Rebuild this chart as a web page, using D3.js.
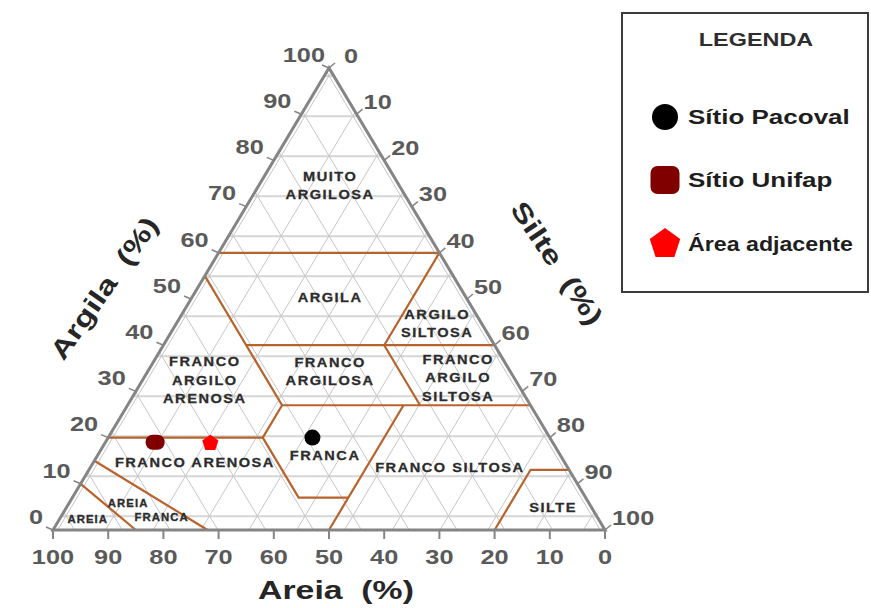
<!DOCTYPE html>
<html>
<head>
<meta charset="utf-8">
<script src="https://cdn.jsdelivr.net/npm/d3@7"></script>
<style>
  html, body { margin: 0; padding: 0; background: #fff; }
  svg { display: block; }
  text { font-family: "Liberation Sans", Arial, sans-serif; font-weight: bold; white-space: pre; }
</style>
</head>
<body>
<svg id="chart" width="871" height="608"></svg>
<script>
// ---- Samples: particle-size fractions in percent ----
const sampleNames = ["Sítio Pacoval", "Sítio Unifap", "Área adjacente"];
const sampleSand  = [43, 72, 62];
const sampleSilt  = [37, 9, 19];
const sampleClay  = [20, 19, 19];

// ---- Axis tick values (percent) ----
const tickValues = [0, 10, 20, 30, 40, 50, 60, 70, 80, 90, 100];

// ---- Texture class boundaries, vertices as [sand, silt, clay] ----
const classBoundaries = [
  [[40, 0, 60], [0, 40, 60]],
  [[45, 0, 55], [45, 28, 27], [52, 28, 20], [52, 41, 7], [43, 50, 7]],
  [[45, 15, 40], [0, 60, 40]],
  [[0, 40, 60], [20, 40, 40], [20, 53, 27]],
  [[45, 28, 27], [0, 73, 27]],
  [[23, 50, 27], [50, 50, 0]],
  [[80, 0, 20], [52, 28, 20]],
  [[85, 0, 15], [72, 28, 0]],
  [[90, 0, 10], [85, 15, 0]],
  [[20, 80, 0], [7, 80, 13], [0, 87, 13]]
];

// ---- Texture class names ----
const classNames = [
  ["MUITO", "ARGILOSA"],
  ["ARGILA"],
  ["ARGILO", "SILTOSA"],
  ["FRANCO", "ARGILOSA"],
  ["FRANCO", "ARGILO", "ARENOSA"],
  ["FRANCO", "ARGILO", "SILTOSA"],
  ["FRANCO ARENOSA"],
  ["FRANCA"],
  ["FRANCO SILTOSA"],
  ["SILTE"],
  ["AREIA"],
  ["AREIA"],
  ["FRANCA"]
];

// ---- Drawing ----
const svg = d3.select("#chart");

// horizontal position follows silt + clay/2, vertical follows clay
const xScale = d3.scaleLinear().domain([0, 100]).range([53, 605]);
const yScale = d3.scaleLinear().domain([0, 100]).range([530, 68]);
const project = (sand, silt, clay) => [xScale(silt + clay / 2), yScale(clay)];
const line = d3.line();

function label(parent, x, y, str, o) {
  const g = parent.append("g")
    .attr("transform", `translate(${x},${y}) rotate(${o.rot || 0}) scale(${o.sx || 1},1)`);
  return g.append("text")
    .attr("text-anchor", o.anchor || "middle")
    .attr("dy", "0.35em")
    .style("font-size", o.size + "px")
    .style("letter-spacing", (o.ls || 0) + "px")
    .attr("fill", o.fill || "#333")
    .text(str);
}

// background lattice
const grid = svg.append("g");
const gridStep = 8.66;
for (let c = 2.98; c < 100; c += gridStep) {
  grid.append("path").attr("d", line([project(100 - c, 0, c), project(0, 100 - c, c)]))
    .attr("stroke", "#d6d6d6").attr("stroke-width", 2).attr("fill", "none");
}
for (let t = 0.84; t < 100; t += gridStep) {
  grid.append("path").attr("d", line([project(100 - t, t, 0), project(0, t, 100 - t)]))
    .attr("stroke", "#c6c6c6").attr("stroke-width", 1).attr("fill", "none");
  grid.append("path").attr("d", line([project(t, 100 - t, 0), project(t, 0, 100 - t)]))
    .attr("stroke", "#c6c6c6").attr("stroke-width", 1).attr("fill", "none");
}

// class boundaries
svg.append("g").selectAll("path").data(classBoundaries).join("path")
  .attr("d", d => line(d.map(p => project(p[0], p[1], p[2]))))
  .attr("fill", "none").attr("stroke", "#b8622c").attr("stroke-width", 2.2)
  .attr("stroke-linejoin", "round");

// triangle outline
const corners = [project(100, 0, 0), project(0, 0, 100), project(0, 100, 0)];
svg.append("path").attr("d", line(corners) + "Z")
  .attr("fill", "none").attr("stroke", "#858585").attr("stroke-width", 3)
  .attr("stroke-linejoin", "miter");

// ticks and tick labels
const axisG = svg.append("g");
const numStyle = { size: 19.5, sx: 1.3, fill: "#5a5a5a" };
tickValues.forEach(v => {
  // sand, along the base
  const [bx, by] = project(v, 100 - v, 0);
  axisG.append("line").attr("x1", bx).attr("x2", bx).attr("y1", by).attr("y2", by + 9)
    .attr("stroke", "#858585").attr("stroke-width", 2);
  label(axisG, bx, by + 27, String(v), numStyle);
  // clay, along the left edge (the apex label sits a little closer)
  const [lx, ly] = project(100 - v, 0, v);
  axisG.append("line").attr("x1", lx).attr("y1", ly).attr("x2", lx - 7).attr("y2", ly - 3)
    .attr("stroke", "#858585").attr("stroke-width", 1.5);
  label(axisG, lx - (v === 100 ? 4 : 10), ly - 13, String(v), Object.assign({ anchor: "end" }, numStyle));
  // silt, along the right edge
  const [rx, ry] = project(0, v, 100 - v);
  axisG.append("line").attr("x1", rx).attr("y1", ry).attr("x2", rx + 6).attr("y2", ry - 5)
    .attr("stroke", "#858585").attr("stroke-width", 1.5);
  label(axisG, rx + (v === 0 ? 15 : 7), ry - 12, String(v), Object.assign({ anchor: "start" }, numStyle));
});

// axis titles
const titleStyle = { size: 26, sx: 1.3, fill: "#262626" };
label(svg, 336, 590, "Areia  (%)", titleStyle);
label(svg, 104, 288, "Argila  (%)", Object.assign({ rot: -55 }, titleStyle));
label(svg, 557, 263, "Silte  (%)", Object.assign({ rot: 56 }, titleStyle));

// class names, centre given as [silt + clay/2, clay]
const namePlaces = [
  [50.2, 74.6], [50.2, 50.4], [69.6, 44.7], [50.2, 34.4], [27.5, 32.5],
  [73.4, 33.0], [25.7, 14.7], [49.3, 16.2], [71.9, 13.6], [90.6, 5.0],
  [6.3, 2.4], [13.6, 5.8], [19.7, 2.8]
];
const namesG = svg.append("g");
classNames.forEach((lines, i) => {
  const small = i >= 10;
  const lh = 18.5;
  const cx = xScale(namePlaces[i][0]);
  const cy = yScale(namePlaces[i][1]);
  lines.forEach((s, j) => {
    label(namesG, cx, cy + (j - (lines.length - 1) / 2) * lh, s,
      { size: small ? 10.5 : 13.5, sx: 1.08, ls: small ? 1 : 1.4, fill: "#2c2c2c" })
      .attr("stroke", "#2c2c2c").attr("stroke-width", 0.3);
  });
});

// marker shapes
function pentagon(r) {
  const pts = d3.range(5).map(k => {
    const a = -Math.PI / 2 + k * 2 * Math.PI / 5;
    return [r * Math.cos(a), r * Math.sin(a)];
  });
  return line(pts) + "Z";
}
function drawMarker(g, i, x, y, big) {
  if (i === 0) {
    g.append("circle").attr("cx", x).attr("cy", y).attr("r", big ? 13 : 8).attr("fill", "#000");
  } else if (i === 1) {
    const w = big ? 29 : 19, h = big ? 28 : 15;
    g.append("rect").attr("x", x - w / 2).attr("y", y - h / 2).attr("width", w).attr("height", h)
      .attr("rx", 7).attr("fill", "#800000");
  } else {
    g.append("path").attr("d", pentagon(big ? 16 : 8.5))
      .attr("transform", `translate(${x},${y + (big ? 2 : 1)})`).attr("fill", "#ff0000");
  }
}

// samples
const pointsG = svg.append("g");
sampleNames.forEach((n, i) => {
  const [x, y] = project(sampleSand[i], sampleSilt[i], sampleClay[i]);
  drawMarker(pointsG, i, x, y, false);
});

// legend
const legend = svg.append("g");
legend.append("rect").attr("x", 622).attr("y", 13).attr("width", 246).attr("height", 279)
  .attr("fill", "#fff").attr("stroke", "#3c3c3c").attr("stroke-width", 2);
label(legend, 756, 40, "LEGENDA", { size: 18, sx: 1.3, fill: "#2e2e2e" });
const legendRows = [117, 180, 242];
const legendStretch = [1.3, 1.3, 1.16];
sampleNames.forEach((n, i) => {
  drawMarker(legend, i, 665, legendRows[i], true);
  label(legend, 688, legendRows[i] + (i === 2 ? 2 : 0), n,
    { size: 20, sx: legendStretch[i], anchor: "start", fill: "#1e1e1e" });
});
</script>
</body>
</html>
